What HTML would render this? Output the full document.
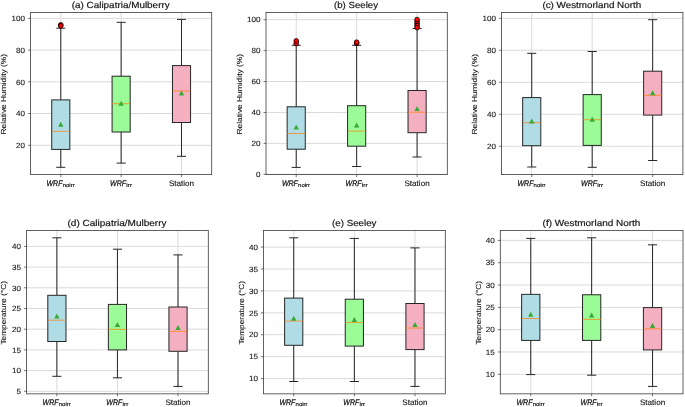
<!DOCTYPE html>
<html><head><meta charset="utf-8"><style>
html,body{margin:0;padding:0;background:#fff;}
body{width:685px;height:407px;overflow:hidden;font-family:"Liberation Sans", sans-serif;}
svg{display:block;will-change:transform;}
</style></head><body>
<svg width="685" height="407" viewBox="0 0 685 407" font-family='"Liberation Sans", sans-serif' text-rendering="geometricPrecision">
<rect width="685" height="407" fill="#fff"/>
<g><line x1="30.6" y1="145.28" x2="211.7" y2="145.28" stroke="#dadada" stroke-width="1.0"/><line x1="30.6" y1="113.56" x2="211.7" y2="113.56" stroke="#dadada" stroke-width="1.0"/><line x1="30.6" y1="81.84" x2="211.7" y2="81.84" stroke="#dadada" stroke-width="1.0"/><line x1="30.6" y1="50.12" x2="211.7" y2="50.12" stroke="#dadada" stroke-width="1.0"/><line x1="30.6" y1="18.4" x2="211.7" y2="18.4" stroke="#dadada" stroke-width="1.0"/><line x1="60.78" y1="12.5" x2="60.78" y2="174.6" stroke="#dadada" stroke-width="1.0"/><line x1="121.15" y1="12.5" x2="121.15" y2="174.6" stroke="#dadada" stroke-width="1.0"/><line x1="181.52" y1="12.5" x2="181.52" y2="174.6" stroke="#dadada" stroke-width="1.0"/><line x1="60.78" y1="28.2" x2="60.78" y2="99.9" stroke="#262626" stroke-width="1.0"/><line x1="60.78" y1="149.4" x2="60.78" y2="167.3" stroke="#262626" stroke-width="1.0"/><line x1="56.26" y1="28.2" x2="65.31" y2="28.2" stroke="#262626" stroke-width="1.0"/><line x1="56.26" y1="167.3" x2="65.31" y2="167.3" stroke="#262626" stroke-width="1.0"/><rect x="51.73" y="99.9" width="18.11" height="49.5" fill="#b0dce6" stroke="#262626" stroke-width="1.0"/><line x1="51.73" y1="131.3" x2="69.84" y2="131.3" stroke="#ff7f0e" stroke-opacity="0.72" stroke-width="1.0"/><path d="M60.78 121.8L63.48 126.8L58.08 126.8Z" fill="#38aa34"/><circle cx="60.78" cy="24.9" r="2.35" fill="#ff0000" stroke="#000" stroke-width="0.8"/><circle cx="60.78" cy="25.9" r="2.35" fill="#ff0000" stroke="#000" stroke-width="0.8"/><line x1="121.15" y1="22.3" x2="121.15" y2="76.2" stroke="#262626" stroke-width="1.0"/><line x1="121.15" y1="132" x2="121.15" y2="163.1" stroke="#262626" stroke-width="1.0"/><line x1="116.62" y1="22.3" x2="125.68" y2="22.3" stroke="#262626" stroke-width="1.0"/><line x1="116.62" y1="163.1" x2="125.68" y2="163.1" stroke="#262626" stroke-width="1.0"/><rect x="112.09" y="76.2" width="18.11" height="55.8" fill="#9bfb96" stroke="#262626" stroke-width="1.0"/><line x1="112.09" y1="103.7" x2="130.21" y2="103.7" stroke="#ff7f0e" stroke-opacity="0.72" stroke-width="1.0"/><path d="M121.15 100.8L123.85 105.8L118.45 105.8Z" fill="#38aa34"/><line x1="181.52" y1="19.4" x2="181.52" y2="65.6" stroke="#262626" stroke-width="1.0"/><line x1="181.52" y1="122.5" x2="181.52" y2="156.3" stroke="#262626" stroke-width="1.0"/><line x1="176.99" y1="19.4" x2="186.04" y2="19.4" stroke="#262626" stroke-width="1.0"/><line x1="176.99" y1="156.3" x2="186.04" y2="156.3" stroke="#262626" stroke-width="1.0"/><rect x="172.46" y="65.6" width="18.11" height="56.9" fill="#f4afc1" stroke="#262626" stroke-width="1.0"/><line x1="172.46" y1="91" x2="190.57" y2="91" stroke="#ff7f0e" stroke-opacity="0.72" stroke-width="1.0"/><path d="M181.52 90.6L184.22 95.6L178.82 95.6Z" fill="#38aa34"/><rect x="30.6" y="12.5" width="181.1" height="162.1" fill="none" stroke="#3a3a3a" stroke-width="0.8"/><line x1="28.1" y1="145.28" x2="30.6" y2="145.28" stroke="#3a3a3a" stroke-width="0.7"/><text x="25.1" y="147.98" font-size="7.6" text-anchor="end" fill="#161616" stroke="#161616" stroke-linejoin="round" stroke-width="0.1" textLength="9" lengthAdjust="spacingAndGlyphs">20</text><line x1="28.1" y1="113.56" x2="30.6" y2="113.56" stroke="#3a3a3a" stroke-width="0.7"/><text x="25.1" y="116.26" font-size="7.6" text-anchor="end" fill="#161616" stroke="#161616" stroke-linejoin="round" stroke-width="0.1" textLength="9" lengthAdjust="spacingAndGlyphs">40</text><line x1="28.1" y1="81.84" x2="30.6" y2="81.84" stroke="#3a3a3a" stroke-width="0.7"/><text x="25.1" y="84.54" font-size="7.6" text-anchor="end" fill="#161616" stroke="#161616" stroke-linejoin="round" stroke-width="0.1" textLength="9" lengthAdjust="spacingAndGlyphs">60</text><line x1="28.1" y1="50.12" x2="30.6" y2="50.12" stroke="#3a3a3a" stroke-width="0.7"/><text x="25.1" y="52.82" font-size="7.6" text-anchor="end" fill="#161616" stroke="#161616" stroke-linejoin="round" stroke-width="0.1" textLength="9" lengthAdjust="spacingAndGlyphs">80</text><line x1="28.1" y1="18.4" x2="30.6" y2="18.4" stroke="#3a3a3a" stroke-width="0.7"/><text x="25.1" y="21.1" font-size="7.6" text-anchor="end" fill="#161616" stroke="#161616" stroke-linejoin="round" stroke-width="0.1" textLength="13.5" lengthAdjust="spacingAndGlyphs">100</text><line x1="60.78" y1="174.6" x2="60.78" y2="177.1" stroke="#3a3a3a" stroke-width="0.7"/><text x="46.48" y="185.9" font-size="8.0" font-style="italic" fill="#161616" stroke="#161616" stroke-linejoin="round" stroke-width="0.28" textLength="16" lengthAdjust="spacingAndGlyphs">WRF</text><text x="62.68" y="187" font-size="5.6" fill="#161616" stroke="#161616" stroke-linejoin="round" stroke-width="0.18" textLength="12" lengthAdjust="spacingAndGlyphs">noirr</text><line x1="121.15" y1="174.6" x2="121.15" y2="177.1" stroke="#3a3a3a" stroke-width="0.7"/><text x="110.05" y="185.9" font-size="8.0" font-style="italic" fill="#161616" stroke="#161616" stroke-linejoin="round" stroke-width="0.28" textLength="16" lengthAdjust="spacingAndGlyphs">WRF</text><text x="126.25" y="187" font-size="5.6" fill="#161616" stroke="#161616" stroke-linejoin="round" stroke-width="0.18" textLength="5.8" lengthAdjust="spacingAndGlyphs">irr</text><line x1="181.52" y1="174.6" x2="181.52" y2="177.1" stroke="#3a3a3a" stroke-width="0.7"/><text x="181.52" y="185.9" font-size="7.9" text-anchor="middle" fill="#161616" stroke="#161616" stroke-linejoin="round" stroke-width="0.12" textLength="25.2" lengthAdjust="spacingAndGlyphs">Station</text><text x="71.7" y="8.3" font-size="8.9" fill="#161616" stroke="#161616" stroke-linejoin="round" stroke-width="0.18" textLength="98" lengthAdjust="spacingAndGlyphs">(a) Calipatria/Mulberry</text><text transform="translate(6.2 94.25) rotate(-90)" x="0" y="0" font-size="7.3" text-anchor="middle" fill="#161616" stroke="#161616" stroke-linejoin="round" stroke-width="0.1" textLength="80.5" lengthAdjust="spacingAndGlyphs">Relative Humidity (%)</text></g>
<g><line x1="266" y1="174.3" x2="447.3" y2="174.3" stroke="#dadada" stroke-width="1.0"/><line x1="266" y1="143.38" x2="447.3" y2="143.38" stroke="#dadada" stroke-width="1.0"/><line x1="266" y1="112.46" x2="447.3" y2="112.46" stroke="#dadada" stroke-width="1.0"/><line x1="266" y1="81.54" x2="447.3" y2="81.54" stroke="#dadada" stroke-width="1.0"/><line x1="266" y1="50.62" x2="447.3" y2="50.62" stroke="#dadada" stroke-width="1.0"/><line x1="266" y1="19.7" x2="447.3" y2="19.7" stroke="#dadada" stroke-width="1.0"/><line x1="296.22" y1="12.5" x2="296.22" y2="174.6" stroke="#dadada" stroke-width="1.0"/><line x1="356.65" y1="12.5" x2="356.65" y2="174.6" stroke="#dadada" stroke-width="1.0"/><line x1="417.08" y1="12.5" x2="417.08" y2="174.6" stroke="#dadada" stroke-width="1.0"/><line x1="296.22" y1="45.3" x2="296.22" y2="106.8" stroke="#262626" stroke-width="1.0"/><line x1="296.22" y1="149.2" x2="296.22" y2="167.4" stroke="#262626" stroke-width="1.0"/><line x1="291.68" y1="45.3" x2="300.75" y2="45.3" stroke="#262626" stroke-width="1.0"/><line x1="291.68" y1="167.4" x2="300.75" y2="167.4" stroke="#262626" stroke-width="1.0"/><rect x="287.15" y="106.8" width="18.13" height="42.4" fill="#b0dce6" stroke="#262626" stroke-width="1.0"/><line x1="287.15" y1="133.5" x2="305.28" y2="133.5" stroke="#ff7f0e" stroke-opacity="0.72" stroke-width="1.0"/><path d="M296.22 124.5L298.92 129.5L293.52 129.5Z" fill="#38aa34"/><circle cx="296.22" cy="43.6" r="2.35" fill="#ff0000" stroke="#000" stroke-width="0.8"/><circle cx="296.22" cy="40.9" r="2.35" fill="#ff0000" stroke="#000" stroke-width="0.8"/><line x1="356.65" y1="45.3" x2="356.65" y2="105.7" stroke="#262626" stroke-width="1.0"/><line x1="356.65" y1="146.2" x2="356.65" y2="166.5" stroke="#262626" stroke-width="1.0"/><line x1="352.12" y1="45.3" x2="361.18" y2="45.3" stroke="#262626" stroke-width="1.0"/><line x1="352.12" y1="166.5" x2="361.18" y2="166.5" stroke="#262626" stroke-width="1.0"/><rect x="347.58" y="105.7" width="18.13" height="40.5" fill="#9bfb96" stroke="#262626" stroke-width="1.0"/><line x1="347.58" y1="131.1" x2="365.71" y2="131.1" stroke="#ff7f0e" stroke-opacity="0.72" stroke-width="1.0"/><path d="M356.65 122.6L359.35 127.6L353.95 127.6Z" fill="#38aa34"/><circle cx="356.65" cy="43.4" r="2.35" fill="#ff0000" stroke="#000" stroke-width="0.8"/><circle cx="356.65" cy="42.2" r="2.35" fill="#ff0000" stroke="#000" stroke-width="0.8"/><line x1="417.08" y1="28.5" x2="417.08" y2="90.5" stroke="#262626" stroke-width="1.0"/><line x1="417.08" y1="132.7" x2="417.08" y2="157" stroke="#262626" stroke-width="1.0"/><line x1="412.55" y1="28.5" x2="421.62" y2="28.5" stroke="#262626" stroke-width="1.0"/><line x1="412.55" y1="157" x2="421.62" y2="157" stroke="#262626" stroke-width="1.0"/><rect x="408.02" y="90.5" width="18.13" height="42.2" fill="#f4afc1" stroke="#262626" stroke-width="1.0"/><line x1="408.02" y1="112.2" x2="426.15" y2="112.2" stroke="#ff7f0e" stroke-opacity="0.72" stroke-width="1.0"/><path d="M417.08 106.1L419.78 111.1L414.38 111.1Z" fill="#38aa34"/><circle cx="417.08" cy="23.6" r="2.35" fill="#ff0000" stroke="#000" stroke-width="0.8"/><circle cx="417.08" cy="21.6" r="2.35" fill="#ff0000" stroke="#000" stroke-width="0.8"/><circle cx="417.08" cy="25.6" r="2.35" fill="#ff0000" stroke="#000" stroke-width="0.8"/><circle cx="417.08" cy="19.6" r="2.35" fill="#ff0000" stroke="#000" stroke-width="0.8"/><circle cx="417.08" cy="27.6" r="2.35" fill="#ff0000" stroke="#000" stroke-width="0.8"/><rect x="266" y="12.5" width="181.3" height="162.1" fill="none" stroke="#3a3a3a" stroke-width="0.8"/><line x1="263.5" y1="174.3" x2="266" y2="174.3" stroke="#3a3a3a" stroke-width="0.7"/><text x="260.5" y="177" font-size="7.6" text-anchor="end" fill="#161616" stroke="#161616" stroke-linejoin="round" stroke-width="0.1" textLength="4.5" lengthAdjust="spacingAndGlyphs">0</text><line x1="263.5" y1="143.38" x2="266" y2="143.38" stroke="#3a3a3a" stroke-width="0.7"/><text x="260.5" y="146.08" font-size="7.6" text-anchor="end" fill="#161616" stroke="#161616" stroke-linejoin="round" stroke-width="0.1" textLength="9" lengthAdjust="spacingAndGlyphs">20</text><line x1="263.5" y1="112.46" x2="266" y2="112.46" stroke="#3a3a3a" stroke-width="0.7"/><text x="260.5" y="115.16" font-size="7.6" text-anchor="end" fill="#161616" stroke="#161616" stroke-linejoin="round" stroke-width="0.1" textLength="9" lengthAdjust="spacingAndGlyphs">40</text><line x1="263.5" y1="81.54" x2="266" y2="81.54" stroke="#3a3a3a" stroke-width="0.7"/><text x="260.5" y="84.24" font-size="7.6" text-anchor="end" fill="#161616" stroke="#161616" stroke-linejoin="round" stroke-width="0.1" textLength="9" lengthAdjust="spacingAndGlyphs">60</text><line x1="263.5" y1="50.62" x2="266" y2="50.62" stroke="#3a3a3a" stroke-width="0.7"/><text x="260.5" y="53.32" font-size="7.6" text-anchor="end" fill="#161616" stroke="#161616" stroke-linejoin="round" stroke-width="0.1" textLength="9" lengthAdjust="spacingAndGlyphs">80</text><line x1="263.5" y1="19.7" x2="266" y2="19.7" stroke="#3a3a3a" stroke-width="0.7"/><text x="260.5" y="22.4" font-size="7.6" text-anchor="end" fill="#161616" stroke="#161616" stroke-linejoin="round" stroke-width="0.1" textLength="13.5" lengthAdjust="spacingAndGlyphs">100</text><line x1="296.22" y1="174.6" x2="296.22" y2="177.1" stroke="#3a3a3a" stroke-width="0.7"/><text x="281.92" y="185.9" font-size="8.0" font-style="italic" fill="#161616" stroke="#161616" stroke-linejoin="round" stroke-width="0.28" textLength="16" lengthAdjust="spacingAndGlyphs">WRF</text><text x="298.12" y="187" font-size="5.6" fill="#161616" stroke="#161616" stroke-linejoin="round" stroke-width="0.18" textLength="12" lengthAdjust="spacingAndGlyphs">noirr</text><line x1="356.65" y1="174.6" x2="356.65" y2="177.1" stroke="#3a3a3a" stroke-width="0.7"/><text x="345.55" y="185.9" font-size="8.0" font-style="italic" fill="#161616" stroke="#161616" stroke-linejoin="round" stroke-width="0.28" textLength="16" lengthAdjust="spacingAndGlyphs">WRF</text><text x="361.75" y="187" font-size="5.6" fill="#161616" stroke="#161616" stroke-linejoin="round" stroke-width="0.18" textLength="5.8" lengthAdjust="spacingAndGlyphs">irr</text><line x1="417.08" y1="174.6" x2="417.08" y2="177.1" stroke="#3a3a3a" stroke-width="0.7"/><text x="417.08" y="185.9" font-size="7.9" text-anchor="middle" fill="#161616" stroke="#161616" stroke-linejoin="round" stroke-width="0.12" textLength="25.2" lengthAdjust="spacingAndGlyphs">Station</text><text x="334" y="8.3" font-size="8.9" fill="#161616" stroke="#161616" stroke-linejoin="round" stroke-width="0.18" textLength="44" lengthAdjust="spacingAndGlyphs">(b) Seeley</text><text transform="translate(241.7 94.25) rotate(-90)" x="0" y="0" font-size="7.3" text-anchor="middle" fill="#161616" stroke="#161616" stroke-linejoin="round" stroke-width="0.1" textLength="80.5" lengthAdjust="spacingAndGlyphs">Relative Humidity (%)</text></g>
<g><line x1="501.5" y1="146.22" x2="682.9" y2="146.22" stroke="#dadada" stroke-width="1.0"/><line x1="501.5" y1="114.24" x2="682.9" y2="114.24" stroke="#dadada" stroke-width="1.0"/><line x1="501.5" y1="82.26" x2="682.9" y2="82.26" stroke="#dadada" stroke-width="1.0"/><line x1="501.5" y1="50.28" x2="682.9" y2="50.28" stroke="#dadada" stroke-width="1.0"/><line x1="501.5" y1="18.3" x2="682.9" y2="18.3" stroke="#dadada" stroke-width="1.0"/><line x1="531.73" y1="12.5" x2="531.73" y2="174.6" stroke="#dadada" stroke-width="1.0"/><line x1="592.2" y1="12.5" x2="592.2" y2="174.6" stroke="#dadada" stroke-width="1.0"/><line x1="652.67" y1="12.5" x2="652.67" y2="174.6" stroke="#dadada" stroke-width="1.0"/><line x1="531.73" y1="53.3" x2="531.73" y2="97.6" stroke="#262626" stroke-width="1.0"/><line x1="531.73" y1="145.7" x2="531.73" y2="167" stroke="#262626" stroke-width="1.0"/><line x1="527.2" y1="53.3" x2="536.27" y2="53.3" stroke="#262626" stroke-width="1.0"/><line x1="527.2" y1="167" x2="536.27" y2="167" stroke="#262626" stroke-width="1.0"/><rect x="522.66" y="97.6" width="18.14" height="48.1" fill="#b0dce6" stroke="#262626" stroke-width="1.0"/><line x1="522.66" y1="122.7" x2="540.8" y2="122.7" stroke="#ff7f0e" stroke-opacity="0.72" stroke-width="1.0"/><path d="M531.73 118.6L534.43 123.6L529.03 123.6Z" fill="#38aa34"/><line x1="592.2" y1="51.5" x2="592.2" y2="94.6" stroke="#262626" stroke-width="1.0"/><line x1="592.2" y1="145.4" x2="592.2" y2="167.3" stroke="#262626" stroke-width="1.0"/><line x1="587.67" y1="51.5" x2="596.74" y2="51.5" stroke="#262626" stroke-width="1.0"/><line x1="587.67" y1="167.3" x2="596.74" y2="167.3" stroke="#262626" stroke-width="1.0"/><rect x="583.13" y="94.6" width="18.14" height="50.8" fill="#9bfb96" stroke="#262626" stroke-width="1.0"/><line x1="583.13" y1="119.7" x2="601.27" y2="119.7" stroke="#ff7f0e" stroke-opacity="0.72" stroke-width="1.0"/><path d="M592.2 116.7L594.9 121.7L589.5 121.7Z" fill="#38aa34"/><line x1="652.67" y1="19.7" x2="652.67" y2="71.2" stroke="#262626" stroke-width="1.0"/><line x1="652.67" y1="115.1" x2="652.67" y2="160.5" stroke="#262626" stroke-width="1.0"/><line x1="648.13" y1="19.7" x2="657.2" y2="19.7" stroke="#262626" stroke-width="1.0"/><line x1="648.13" y1="160.5" x2="657.2" y2="160.5" stroke="#262626" stroke-width="1.0"/><rect x="643.6" y="71.2" width="18.14" height="43.9" fill="#f4afc1" stroke="#262626" stroke-width="1.0"/><line x1="643.6" y1="95.4" x2="661.74" y2="95.4" stroke="#ff7f0e" stroke-opacity="0.72" stroke-width="1.0"/><path d="M652.67 90.2L655.37 95.2L649.97 95.2Z" fill="#38aa34"/><rect x="501.5" y="12.5" width="181.4" height="162.1" fill="none" stroke="#3a3a3a" stroke-width="0.8"/><line x1="499" y1="146.22" x2="501.5" y2="146.22" stroke="#3a3a3a" stroke-width="0.7"/><text x="496" y="148.92" font-size="7.6" text-anchor="end" fill="#161616" stroke="#161616" stroke-linejoin="round" stroke-width="0.1" textLength="9" lengthAdjust="spacingAndGlyphs">20</text><line x1="499" y1="114.24" x2="501.5" y2="114.24" stroke="#3a3a3a" stroke-width="0.7"/><text x="496" y="116.94" font-size="7.6" text-anchor="end" fill="#161616" stroke="#161616" stroke-linejoin="round" stroke-width="0.1" textLength="9" lengthAdjust="spacingAndGlyphs">40</text><line x1="499" y1="82.26" x2="501.5" y2="82.26" stroke="#3a3a3a" stroke-width="0.7"/><text x="496" y="84.96" font-size="7.6" text-anchor="end" fill="#161616" stroke="#161616" stroke-linejoin="round" stroke-width="0.1" textLength="9" lengthAdjust="spacingAndGlyphs">60</text><line x1="499" y1="50.28" x2="501.5" y2="50.28" stroke="#3a3a3a" stroke-width="0.7"/><text x="496" y="52.98" font-size="7.6" text-anchor="end" fill="#161616" stroke="#161616" stroke-linejoin="round" stroke-width="0.1" textLength="9" lengthAdjust="spacingAndGlyphs">80</text><line x1="499" y1="18.3" x2="501.5" y2="18.3" stroke="#3a3a3a" stroke-width="0.7"/><text x="496" y="21" font-size="7.6" text-anchor="end" fill="#161616" stroke="#161616" stroke-linejoin="round" stroke-width="0.1" textLength="13.5" lengthAdjust="spacingAndGlyphs">100</text><line x1="531.73" y1="174.6" x2="531.73" y2="177.1" stroke="#3a3a3a" stroke-width="0.7"/><text x="517.43" y="185.9" font-size="8.0" font-style="italic" fill="#161616" stroke="#161616" stroke-linejoin="round" stroke-width="0.28" textLength="16" lengthAdjust="spacingAndGlyphs">WRF</text><text x="533.63" y="187" font-size="5.6" fill="#161616" stroke="#161616" stroke-linejoin="round" stroke-width="0.18" textLength="12" lengthAdjust="spacingAndGlyphs">noirr</text><line x1="592.2" y1="174.6" x2="592.2" y2="177.1" stroke="#3a3a3a" stroke-width="0.7"/><text x="581.1" y="185.9" font-size="8.0" font-style="italic" fill="#161616" stroke="#161616" stroke-linejoin="round" stroke-width="0.28" textLength="16" lengthAdjust="spacingAndGlyphs">WRF</text><text x="597.3" y="187" font-size="5.6" fill="#161616" stroke="#161616" stroke-linejoin="round" stroke-width="0.18" textLength="5.8" lengthAdjust="spacingAndGlyphs">irr</text><line x1="652.67" y1="174.6" x2="652.67" y2="177.1" stroke="#3a3a3a" stroke-width="0.7"/><text x="652.67" y="185.9" font-size="7.9" text-anchor="middle" fill="#161616" stroke="#161616" stroke-linejoin="round" stroke-width="0.12" textLength="25.2" lengthAdjust="spacingAndGlyphs">Station</text><text x="542.4" y="8.3" font-size="8.9" fill="#161616" stroke="#161616" stroke-linejoin="round" stroke-width="0.18" textLength="98.8" lengthAdjust="spacingAndGlyphs">(c) Westmorland North</text><text transform="translate(477.4 94.25) rotate(-90)" x="0" y="0" font-size="7.3" text-anchor="middle" fill="#161616" stroke="#161616" stroke-linejoin="round" stroke-width="0.1" textLength="80.5" lengthAdjust="spacingAndGlyphs">Relative Humidity (%)</text></g>
<g><line x1="26.6" y1="391.3" x2="208.3" y2="391.3" stroke="#dadada" stroke-width="1.0"/><line x1="26.6" y1="370.6" x2="208.3" y2="370.6" stroke="#dadada" stroke-width="1.0"/><line x1="26.6" y1="349.9" x2="208.3" y2="349.9" stroke="#dadada" stroke-width="1.0"/><line x1="26.6" y1="329.2" x2="208.3" y2="329.2" stroke="#dadada" stroke-width="1.0"/><line x1="26.6" y1="308.5" x2="208.3" y2="308.5" stroke="#dadada" stroke-width="1.0"/><line x1="26.6" y1="287.8" x2="208.3" y2="287.8" stroke="#dadada" stroke-width="1.0"/><line x1="26.6" y1="267.1" x2="208.3" y2="267.1" stroke="#dadada" stroke-width="1.0"/><line x1="26.6" y1="246.4" x2="208.3" y2="246.4" stroke="#dadada" stroke-width="1.0"/><line x1="56.88" y1="230.4" x2="56.88" y2="393.85" stroke="#dadada" stroke-width="1.0"/><line x1="117.45" y1="230.4" x2="117.45" y2="393.85" stroke="#dadada" stroke-width="1.0"/><line x1="178.02" y1="230.4" x2="178.02" y2="393.85" stroke="#dadada" stroke-width="1.0"/><line x1="56.88" y1="237.8" x2="56.88" y2="295.3" stroke="#262626" stroke-width="1.0"/><line x1="56.88" y1="341.5" x2="56.88" y2="376.3" stroke="#262626" stroke-width="1.0"/><line x1="52.34" y1="237.8" x2="61.43" y2="237.8" stroke="#262626" stroke-width="1.0"/><line x1="52.34" y1="376.3" x2="61.43" y2="376.3" stroke="#262626" stroke-width="1.0"/><rect x="47.8" y="295.3" width="18.17" height="46.2" fill="#b0dce6" stroke="#262626" stroke-width="1.0"/><line x1="47.8" y1="320.2" x2="65.97" y2="320.2" stroke="#ff7f0e" stroke-opacity="0.72" stroke-width="1.0"/><path d="M56.88 313.4L59.58 318.4L54.18 318.4Z" fill="#38aa34"/><line x1="117.45" y1="249.2" x2="117.45" y2="304.4" stroke="#262626" stroke-width="1.0"/><line x1="117.45" y1="349.9" x2="117.45" y2="377.8" stroke="#262626" stroke-width="1.0"/><line x1="112.91" y1="249.2" x2="121.99" y2="249.2" stroke="#262626" stroke-width="1.0"/><line x1="112.91" y1="377.8" x2="121.99" y2="377.8" stroke="#262626" stroke-width="1.0"/><rect x="108.37" y="304.4" width="18.17" height="45.5" fill="#9bfb96" stroke="#262626" stroke-width="1.0"/><line x1="108.37" y1="329.4" x2="126.54" y2="329.4" stroke="#ff7f0e" stroke-opacity="0.72" stroke-width="1.0"/><path d="M117.45 322L120.15 327L114.75 327Z" fill="#38aa34"/><line x1="178.02" y1="254.9" x2="178.02" y2="307" stroke="#262626" stroke-width="1.0"/><line x1="178.02" y1="351.3" x2="178.02" y2="386.4" stroke="#262626" stroke-width="1.0"/><line x1="173.47" y1="254.9" x2="182.56" y2="254.9" stroke="#262626" stroke-width="1.0"/><line x1="173.47" y1="386.4" x2="182.56" y2="386.4" stroke="#262626" stroke-width="1.0"/><rect x="168.93" y="307" width="18.17" height="44.3" fill="#f4afc1" stroke="#262626" stroke-width="1.0"/><line x1="168.93" y1="331.4" x2="187.1" y2="331.4" stroke="#ff7f0e" stroke-opacity="0.72" stroke-width="1.0"/><path d="M178.02 324.9L180.72 329.9L175.32 329.9Z" fill="#38aa34"/><rect x="26.6" y="230.4" width="181.7" height="163.45" fill="none" stroke="#3a3a3a" stroke-width="0.8"/><line x1="24.1" y1="391.3" x2="26.6" y2="391.3" stroke="#3a3a3a" stroke-width="0.7"/><text x="21.1" y="394" font-size="7.6" text-anchor="end" fill="#161616" stroke="#161616" stroke-linejoin="round" stroke-width="0.1" textLength="4.5" lengthAdjust="spacingAndGlyphs">5</text><line x1="24.1" y1="370.6" x2="26.6" y2="370.6" stroke="#3a3a3a" stroke-width="0.7"/><text x="21.1" y="373.3" font-size="7.6" text-anchor="end" fill="#161616" stroke="#161616" stroke-linejoin="round" stroke-width="0.1" textLength="9" lengthAdjust="spacingAndGlyphs">10</text><line x1="24.1" y1="349.9" x2="26.6" y2="349.9" stroke="#3a3a3a" stroke-width="0.7"/><text x="21.1" y="352.6" font-size="7.6" text-anchor="end" fill="#161616" stroke="#161616" stroke-linejoin="round" stroke-width="0.1" textLength="9" lengthAdjust="spacingAndGlyphs">15</text><line x1="24.1" y1="329.2" x2="26.6" y2="329.2" stroke="#3a3a3a" stroke-width="0.7"/><text x="21.1" y="331.9" font-size="7.6" text-anchor="end" fill="#161616" stroke="#161616" stroke-linejoin="round" stroke-width="0.1" textLength="9" lengthAdjust="spacingAndGlyphs">20</text><line x1="24.1" y1="308.5" x2="26.6" y2="308.5" stroke="#3a3a3a" stroke-width="0.7"/><text x="21.1" y="311.2" font-size="7.6" text-anchor="end" fill="#161616" stroke="#161616" stroke-linejoin="round" stroke-width="0.1" textLength="9" lengthAdjust="spacingAndGlyphs">25</text><line x1="24.1" y1="287.8" x2="26.6" y2="287.8" stroke="#3a3a3a" stroke-width="0.7"/><text x="21.1" y="290.5" font-size="7.6" text-anchor="end" fill="#161616" stroke="#161616" stroke-linejoin="round" stroke-width="0.1" textLength="9" lengthAdjust="spacingAndGlyphs">30</text><line x1="24.1" y1="267.1" x2="26.6" y2="267.1" stroke="#3a3a3a" stroke-width="0.7"/><text x="21.1" y="269.8" font-size="7.6" text-anchor="end" fill="#161616" stroke="#161616" stroke-linejoin="round" stroke-width="0.1" textLength="9" lengthAdjust="spacingAndGlyphs">35</text><line x1="24.1" y1="246.4" x2="26.6" y2="246.4" stroke="#3a3a3a" stroke-width="0.7"/><text x="21.1" y="249.1" font-size="7.6" text-anchor="end" fill="#161616" stroke="#161616" stroke-linejoin="round" stroke-width="0.1" textLength="9" lengthAdjust="spacingAndGlyphs">40</text><line x1="56.88" y1="393.85" x2="56.88" y2="396.35" stroke="#3a3a3a" stroke-width="0.7"/><text x="42.58" y="405.15" font-size="8.0" font-style="italic" fill="#161616" stroke="#161616" stroke-linejoin="round" stroke-width="0.28" textLength="16" lengthAdjust="spacingAndGlyphs">WRF</text><text x="58.78" y="406.25" font-size="5.6" fill="#161616" stroke="#161616" stroke-linejoin="round" stroke-width="0.18" textLength="12" lengthAdjust="spacingAndGlyphs">noirr</text><line x1="117.45" y1="393.85" x2="117.45" y2="396.35" stroke="#3a3a3a" stroke-width="0.7"/><text x="106.35" y="405.15" font-size="8.0" font-style="italic" fill="#161616" stroke="#161616" stroke-linejoin="round" stroke-width="0.28" textLength="16" lengthAdjust="spacingAndGlyphs">WRF</text><text x="122.55" y="406.25" font-size="5.6" fill="#161616" stroke="#161616" stroke-linejoin="round" stroke-width="0.18" textLength="5.8" lengthAdjust="spacingAndGlyphs">irr</text><line x1="178.02" y1="393.85" x2="178.02" y2="396.35" stroke="#3a3a3a" stroke-width="0.7"/><text x="178.02" y="405.15" font-size="7.9" text-anchor="middle" fill="#161616" stroke="#161616" stroke-linejoin="round" stroke-width="0.12" textLength="25.2" lengthAdjust="spacingAndGlyphs">Station</text><text x="67.5" y="226.2" font-size="8.9" fill="#161616" stroke="#161616" stroke-linejoin="round" stroke-width="0.18" textLength="99" lengthAdjust="spacingAndGlyphs">(d) Calipatria/Mulberry</text><text transform="translate(6.4 312.82) rotate(-90)" x="0" y="0" font-size="7.3" text-anchor="middle" fill="#161616" stroke="#161616" stroke-linejoin="round" stroke-width="0.1" textLength="63.5" lengthAdjust="spacingAndGlyphs">Temperature (°C)</text></g>
<g><line x1="263.4" y1="378.59" x2="445.3" y2="378.59" stroke="#dadada" stroke-width="1.0"/><line x1="263.4" y1="356.68" x2="445.3" y2="356.68" stroke="#dadada" stroke-width="1.0"/><line x1="263.4" y1="334.76" x2="445.3" y2="334.76" stroke="#dadada" stroke-width="1.0"/><line x1="263.4" y1="312.85" x2="445.3" y2="312.85" stroke="#dadada" stroke-width="1.0"/><line x1="263.4" y1="290.93" x2="445.3" y2="290.93" stroke="#dadada" stroke-width="1.0"/><line x1="263.4" y1="269.01" x2="445.3" y2="269.01" stroke="#dadada" stroke-width="1.0"/><line x1="263.4" y1="247.1" x2="445.3" y2="247.1" stroke="#dadada" stroke-width="1.0"/><line x1="293.72" y1="230.4" x2="293.72" y2="393.85" stroke="#dadada" stroke-width="1.0"/><line x1="354.35" y1="230.4" x2="354.35" y2="393.85" stroke="#dadada" stroke-width="1.0"/><line x1="414.98" y1="230.4" x2="414.98" y2="393.85" stroke="#dadada" stroke-width="1.0"/><line x1="293.72" y1="237.8" x2="293.72" y2="298.1" stroke="#262626" stroke-width="1.0"/><line x1="293.72" y1="345.3" x2="293.72" y2="381.5" stroke="#262626" stroke-width="1.0"/><line x1="289.17" y1="237.8" x2="298.26" y2="237.8" stroke="#262626" stroke-width="1.0"/><line x1="289.17" y1="381.5" x2="298.26" y2="381.5" stroke="#262626" stroke-width="1.0"/><rect x="284.62" y="298.1" width="18.19" height="47.2" fill="#b0dce6" stroke="#262626" stroke-width="1.0"/><line x1="284.62" y1="321.1" x2="302.81" y2="321.1" stroke="#ff7f0e" stroke-opacity="0.72" stroke-width="1.0"/><path d="M293.72 315.7L296.42 320.7L291.02 320.7Z" fill="#38aa34"/><line x1="354.35" y1="238.4" x2="354.35" y2="299.2" stroke="#262626" stroke-width="1.0"/><line x1="354.35" y1="346.1" x2="354.35" y2="381.5" stroke="#262626" stroke-width="1.0"/><line x1="349.8" y1="238.4" x2="358.9" y2="238.4" stroke="#262626" stroke-width="1.0"/><line x1="349.8" y1="381.5" x2="358.9" y2="381.5" stroke="#262626" stroke-width="1.0"/><rect x="345.25" y="299.2" width="18.19" height="46.9" fill="#9bfb96" stroke="#262626" stroke-width="1.0"/><line x1="345.25" y1="322.5" x2="363.45" y2="322.5" stroke="#ff7f0e" stroke-opacity="0.72" stroke-width="1.0"/><path d="M354.35 316.9L357.05 321.9L351.65 321.9Z" fill="#38aa34"/><line x1="414.98" y1="247.9" x2="414.98" y2="303.5" stroke="#262626" stroke-width="1.0"/><line x1="414.98" y1="349.6" x2="414.98" y2="386.4" stroke="#262626" stroke-width="1.0"/><line x1="410.44" y1="247.9" x2="419.53" y2="247.9" stroke="#262626" stroke-width="1.0"/><line x1="410.44" y1="386.4" x2="419.53" y2="386.4" stroke="#262626" stroke-width="1.0"/><rect x="405.89" y="303.5" width="18.19" height="46.1" fill="#f4afc1" stroke="#262626" stroke-width="1.0"/><line x1="405.89" y1="328" x2="424.08" y2="328" stroke="#ff7f0e" stroke-opacity="0.72" stroke-width="1.0"/><path d="M414.98 322L417.68 327L412.28 327Z" fill="#38aa34"/><rect x="263.4" y="230.4" width="181.9" height="163.45" fill="none" stroke="#3a3a3a" stroke-width="0.8"/><line x1="260.9" y1="378.59" x2="263.4" y2="378.59" stroke="#3a3a3a" stroke-width="0.7"/><text x="257.9" y="381.29" font-size="7.6" text-anchor="end" fill="#161616" stroke="#161616" stroke-linejoin="round" stroke-width="0.1" textLength="9" lengthAdjust="spacingAndGlyphs">10</text><line x1="260.9" y1="356.68" x2="263.4" y2="356.68" stroke="#3a3a3a" stroke-width="0.7"/><text x="257.9" y="359.38" font-size="7.6" text-anchor="end" fill="#161616" stroke="#161616" stroke-linejoin="round" stroke-width="0.1" textLength="9" lengthAdjust="spacingAndGlyphs">15</text><line x1="260.9" y1="334.76" x2="263.4" y2="334.76" stroke="#3a3a3a" stroke-width="0.7"/><text x="257.9" y="337.46" font-size="7.6" text-anchor="end" fill="#161616" stroke="#161616" stroke-linejoin="round" stroke-width="0.1" textLength="9" lengthAdjust="spacingAndGlyphs">20</text><line x1="260.9" y1="312.85" x2="263.4" y2="312.85" stroke="#3a3a3a" stroke-width="0.7"/><text x="257.9" y="315.55" font-size="7.6" text-anchor="end" fill="#161616" stroke="#161616" stroke-linejoin="round" stroke-width="0.1" textLength="9" lengthAdjust="spacingAndGlyphs">25</text><line x1="260.9" y1="290.93" x2="263.4" y2="290.93" stroke="#3a3a3a" stroke-width="0.7"/><text x="257.9" y="293.63" font-size="7.6" text-anchor="end" fill="#161616" stroke="#161616" stroke-linejoin="round" stroke-width="0.1" textLength="9" lengthAdjust="spacingAndGlyphs">30</text><line x1="260.9" y1="269.01" x2="263.4" y2="269.01" stroke="#3a3a3a" stroke-width="0.7"/><text x="257.9" y="271.71" font-size="7.6" text-anchor="end" fill="#161616" stroke="#161616" stroke-linejoin="round" stroke-width="0.1" textLength="9" lengthAdjust="spacingAndGlyphs">35</text><line x1="260.9" y1="247.1" x2="263.4" y2="247.1" stroke="#3a3a3a" stroke-width="0.7"/><text x="257.9" y="249.8" font-size="7.6" text-anchor="end" fill="#161616" stroke="#161616" stroke-linejoin="round" stroke-width="0.1" textLength="9" lengthAdjust="spacingAndGlyphs">40</text><line x1="293.72" y1="393.85" x2="293.72" y2="396.35" stroke="#3a3a3a" stroke-width="0.7"/><text x="279.42" y="405.15" font-size="8.0" font-style="italic" fill="#161616" stroke="#161616" stroke-linejoin="round" stroke-width="0.28" textLength="16" lengthAdjust="spacingAndGlyphs">WRF</text><text x="295.62" y="406.25" font-size="5.6" fill="#161616" stroke="#161616" stroke-linejoin="round" stroke-width="0.18" textLength="12" lengthAdjust="spacingAndGlyphs">noirr</text><line x1="354.35" y1="393.85" x2="354.35" y2="396.35" stroke="#3a3a3a" stroke-width="0.7"/><text x="343.25" y="405.15" font-size="8.0" font-style="italic" fill="#161616" stroke="#161616" stroke-linejoin="round" stroke-width="0.28" textLength="16" lengthAdjust="spacingAndGlyphs">WRF</text><text x="359.45" y="406.25" font-size="5.6" fill="#161616" stroke="#161616" stroke-linejoin="round" stroke-width="0.18" textLength="5.8" lengthAdjust="spacingAndGlyphs">irr</text><line x1="414.98" y1="393.85" x2="414.98" y2="396.35" stroke="#3a3a3a" stroke-width="0.7"/><text x="414.98" y="405.15" font-size="7.9" text-anchor="middle" fill="#161616" stroke="#161616" stroke-linejoin="round" stroke-width="0.12" textLength="25.2" lengthAdjust="spacingAndGlyphs">Station</text><text x="332" y="226.2" font-size="8.9" fill="#161616" stroke="#161616" stroke-linejoin="round" stroke-width="0.18" textLength="44.5" lengthAdjust="spacingAndGlyphs">(e) Seeley</text><text transform="translate(243.5 312.82) rotate(-90)" x="0" y="0" font-size="7.3" text-anchor="middle" fill="#161616" stroke="#161616" stroke-linejoin="round" stroke-width="0.1" textLength="63.5" lengthAdjust="spacingAndGlyphs">Temperature (°C)</text></g>
<g><line x1="500.3" y1="374.29" x2="683" y2="374.29" stroke="#dadada" stroke-width="1.0"/><line x1="500.3" y1="351.98" x2="683" y2="351.98" stroke="#dadada" stroke-width="1.0"/><line x1="500.3" y1="329.66" x2="683" y2="329.66" stroke="#dadada" stroke-width="1.0"/><line x1="500.3" y1="307.35" x2="683" y2="307.35" stroke="#dadada" stroke-width="1.0"/><line x1="500.3" y1="285.03" x2="683" y2="285.03" stroke="#dadada" stroke-width="1.0"/><line x1="500.3" y1="262.72" x2="683" y2="262.72" stroke="#dadada" stroke-width="1.0"/><line x1="500.3" y1="240.4" x2="683" y2="240.4" stroke="#dadada" stroke-width="1.0"/><line x1="530.75" y1="230.4" x2="530.75" y2="393.85" stroke="#dadada" stroke-width="1.0"/><line x1="591.65" y1="230.4" x2="591.65" y2="393.85" stroke="#dadada" stroke-width="1.0"/><line x1="652.55" y1="230.4" x2="652.55" y2="393.85" stroke="#dadada" stroke-width="1.0"/><line x1="530.75" y1="238.4" x2="530.75" y2="294.35" stroke="#262626" stroke-width="1.0"/><line x1="530.75" y1="340.4" x2="530.75" y2="374.6" stroke="#262626" stroke-width="1.0"/><line x1="526.18" y1="238.4" x2="535.32" y2="238.4" stroke="#262626" stroke-width="1.0"/><line x1="526.18" y1="374.6" x2="535.32" y2="374.6" stroke="#262626" stroke-width="1.0"/><rect x="521.62" y="294.35" width="18.27" height="46.05" fill="#b0dce6" stroke="#262626" stroke-width="1.0"/><line x1="521.62" y1="318.5" x2="539.88" y2="318.5" stroke="#ff7f0e" stroke-opacity="0.72" stroke-width="1.0"/><path d="M530.75 311.7L533.45 316.7L528.05 316.7Z" fill="#38aa34"/><line x1="591.65" y1="237.8" x2="591.65" y2="294.75" stroke="#262626" stroke-width="1.0"/><line x1="591.65" y1="340.4" x2="591.65" y2="375.2" stroke="#262626" stroke-width="1.0"/><line x1="587.08" y1="237.8" x2="596.22" y2="237.8" stroke="#262626" stroke-width="1.0"/><line x1="587.08" y1="375.2" x2="596.22" y2="375.2" stroke="#262626" stroke-width="1.0"/><rect x="582.51" y="294.75" width="18.27" height="45.65" fill="#9bfb96" stroke="#262626" stroke-width="1.0"/><line x1="582.51" y1="319.4" x2="600.78" y2="319.4" stroke="#ff7f0e" stroke-opacity="0.72" stroke-width="1.0"/><path d="M591.65 312.5L594.35 317.5L588.95 317.5Z" fill="#38aa34"/><line x1="652.55" y1="244.8" x2="652.55" y2="307.6" stroke="#262626" stroke-width="1.0"/><line x1="652.55" y1="349.9" x2="652.55" y2="386.4" stroke="#262626" stroke-width="1.0"/><line x1="647.98" y1="244.8" x2="657.12" y2="244.8" stroke="#262626" stroke-width="1.0"/><line x1="647.98" y1="386.4" x2="657.12" y2="386.4" stroke="#262626" stroke-width="1.0"/><rect x="643.41" y="307.6" width="18.27" height="42.3" fill="#f4afc1" stroke="#262626" stroke-width="1.0"/><line x1="643.41" y1="328.8" x2="661.68" y2="328.8" stroke="#ff7f0e" stroke-opacity="0.72" stroke-width="1.0"/><path d="M652.55 322.9L655.25 327.9L649.85 327.9Z" fill="#38aa34"/><rect x="500.3" y="230.4" width="182.7" height="163.45" fill="none" stroke="#3a3a3a" stroke-width="0.8"/><line x1="497.8" y1="374.29" x2="500.3" y2="374.29" stroke="#3a3a3a" stroke-width="0.7"/><text x="494.8" y="376.99" font-size="7.6" text-anchor="end" fill="#161616" stroke="#161616" stroke-linejoin="round" stroke-width="0.1" textLength="9" lengthAdjust="spacingAndGlyphs">10</text><line x1="497.8" y1="351.98" x2="500.3" y2="351.98" stroke="#3a3a3a" stroke-width="0.7"/><text x="494.8" y="354.68" font-size="7.6" text-anchor="end" fill="#161616" stroke="#161616" stroke-linejoin="round" stroke-width="0.1" textLength="9" lengthAdjust="spacingAndGlyphs">15</text><line x1="497.8" y1="329.66" x2="500.3" y2="329.66" stroke="#3a3a3a" stroke-width="0.7"/><text x="494.8" y="332.36" font-size="7.6" text-anchor="end" fill="#161616" stroke="#161616" stroke-linejoin="round" stroke-width="0.1" textLength="9" lengthAdjust="spacingAndGlyphs">20</text><line x1="497.8" y1="307.35" x2="500.3" y2="307.35" stroke="#3a3a3a" stroke-width="0.7"/><text x="494.8" y="310.05" font-size="7.6" text-anchor="end" fill="#161616" stroke="#161616" stroke-linejoin="round" stroke-width="0.1" textLength="9" lengthAdjust="spacingAndGlyphs">25</text><line x1="497.8" y1="285.03" x2="500.3" y2="285.03" stroke="#3a3a3a" stroke-width="0.7"/><text x="494.8" y="287.73" font-size="7.6" text-anchor="end" fill="#161616" stroke="#161616" stroke-linejoin="round" stroke-width="0.1" textLength="9" lengthAdjust="spacingAndGlyphs">30</text><line x1="497.8" y1="262.72" x2="500.3" y2="262.72" stroke="#3a3a3a" stroke-width="0.7"/><text x="494.8" y="265.42" font-size="7.6" text-anchor="end" fill="#161616" stroke="#161616" stroke-linejoin="round" stroke-width="0.1" textLength="9" lengthAdjust="spacingAndGlyphs">35</text><line x1="497.8" y1="240.4" x2="500.3" y2="240.4" stroke="#3a3a3a" stroke-width="0.7"/><text x="494.8" y="243.1" font-size="7.6" text-anchor="end" fill="#161616" stroke="#161616" stroke-linejoin="round" stroke-width="0.1" textLength="9" lengthAdjust="spacingAndGlyphs">40</text><line x1="530.75" y1="393.85" x2="530.75" y2="396.35" stroke="#3a3a3a" stroke-width="0.7"/><text x="516.45" y="405.15" font-size="8.0" font-style="italic" fill="#161616" stroke="#161616" stroke-linejoin="round" stroke-width="0.28" textLength="16" lengthAdjust="spacingAndGlyphs">WRF</text><text x="532.65" y="406.25" font-size="5.6" fill="#161616" stroke="#161616" stroke-linejoin="round" stroke-width="0.18" textLength="12" lengthAdjust="spacingAndGlyphs">noirr</text><line x1="591.65" y1="393.85" x2="591.65" y2="396.35" stroke="#3a3a3a" stroke-width="0.7"/><text x="580.55" y="405.15" font-size="8.0" font-style="italic" fill="#161616" stroke="#161616" stroke-linejoin="round" stroke-width="0.28" textLength="16" lengthAdjust="spacingAndGlyphs">WRF</text><text x="596.75" y="406.25" font-size="5.6" fill="#161616" stroke="#161616" stroke-linejoin="round" stroke-width="0.18" textLength="5.8" lengthAdjust="spacingAndGlyphs">irr</text><line x1="652.55" y1="393.85" x2="652.55" y2="396.35" stroke="#3a3a3a" stroke-width="0.7"/><text x="652.55" y="405.15" font-size="7.9" text-anchor="middle" fill="#161616" stroke="#161616" stroke-linejoin="round" stroke-width="0.12" textLength="25.2" lengthAdjust="spacingAndGlyphs">Station</text><text x="542.6" y="226.2" font-size="8.9" fill="#161616" stroke="#161616" stroke-linejoin="round" stroke-width="0.18" textLength="97.8" lengthAdjust="spacingAndGlyphs">(f) Westmorland North</text><text transform="translate(480.5 312.82) rotate(-90)" x="0" y="0" font-size="7.3" text-anchor="middle" fill="#161616" stroke="#161616" stroke-linejoin="round" stroke-width="0.1" textLength="63.5" lengthAdjust="spacingAndGlyphs">Temperature (°C)</text></g>
</svg>
</body></html>
